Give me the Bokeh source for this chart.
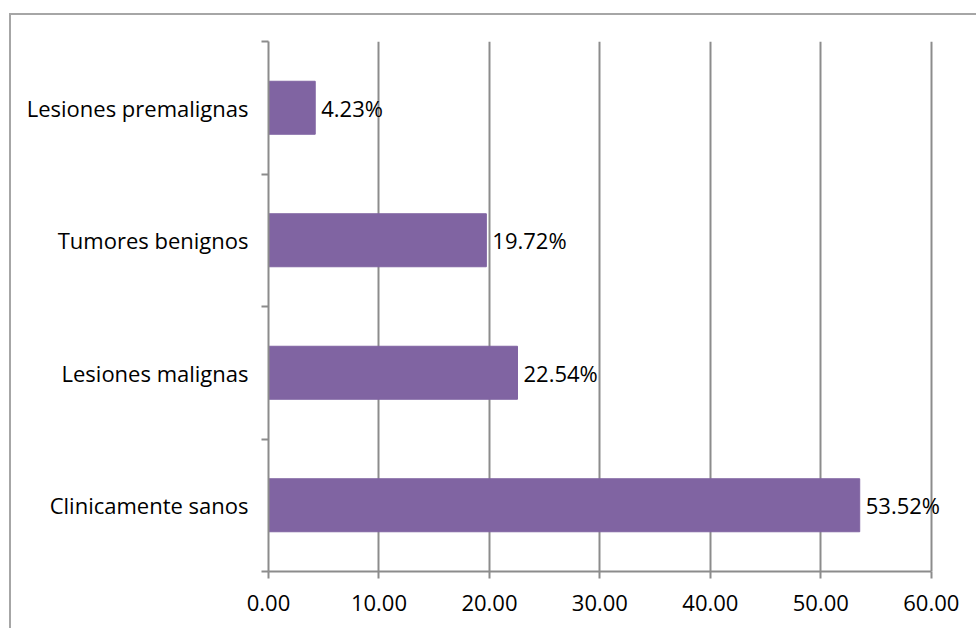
from bokeh.plotting import figure
from bokeh.models import (Range1d, FixedTicker, SingleIntervalTicker, NumeralTickFormatter,
                          Label)
from bokeh.embed import file_html
from bokeh.resources import INLINE

categories = ["Clinicamente sanos", "Lesiones malignas", "Tumores benignos", "Lesiones premalignas"]
values = [53.52, 22.54, 19.72, 4.23]
value_labels = ["53.52%", "22.54%", "19.72%", "4.23%"]
axis_max = 60

FONT = "Open Sans"
FS = "22px"
GRAY = "#8c8c8c"

ypos = [i + 0.5 for i in range(len(categories))]

# frame extended past the axis end so the last value label is not clipped
p = figure(width=967, height=615, output_backend="svg", toolbar_location=None,
           x_range=Range1d(0, 64), y_range=Range1d(0, len(categories)),
           min_border_left=257, min_border_right=3, min_border_top=26, min_border_bottom=59,
           margin=(13, 0, 0, 9))
p.styles = {"border-left": "2px solid #a6a6a6", "border-top": "2px solid #a6a6a6"}
p.outline_line_color = None
p.background_fill_color = "white"
p.border_fill_color = "white"

p.hbar(y=ypos, right=values, left=0, height=0.4, fill_color="#8064A2", line_color="#8064A2")

for yv, v, lab in zip(ypos, values, value_labels):
    p.add_layout(Label(x=v, y=yv, text=lab, x_offset=6, text_baseline="middle",
                       text_align="left", text_font=FONT, text_font_size=FS, text_color="black"))

# x axis
p.xaxis.bounds = (0, axis_max)
p.xaxis.ticker = SingleIntervalTicker(interval=10)
p.xaxis.formatter = NumeralTickFormatter(format="0.00")
p.xaxis.axis_line_color = GRAY
p.xaxis.axis_line_width = 2
p.xaxis.major_tick_line_color = GRAY
p.xaxis.major_tick_line_width = 2
p.xaxis.major_tick_in = 0
p.xaxis.major_tick_out = 7
p.xaxis.minor_tick_line_color = None
p.xaxis.major_label_text_font = FONT
p.xaxis.major_label_text_font_size = FS
p.xaxis.major_label_text_color = "black"
p.xaxis.major_label_standoff = 16

# y axis
p.yaxis.ticker = FixedTicker(ticks=ypos, minor_ticks=list(range(len(categories) + 1)))
p.yaxis.major_label_overrides = {y: c for y, c in zip(ypos, categories)}
p.yaxis.axis_line_color = GRAY
p.yaxis.axis_line_width = 2
p.yaxis.major_tick_line_color = None
p.yaxis.major_tick_in = 0
p.yaxis.major_tick_out = 0
p.yaxis.minor_tick_line_color = GRAY
p.yaxis.minor_tick_line_width = 2
p.yaxis.minor_tick_in = 0
p.yaxis.minor_tick_out = 7
p.yaxis.major_label_text_font = FONT
p.yaxis.major_label_text_font_size = FS
p.yaxis.major_label_text_color = "black"
p.yaxis.major_label_standoff = 13

p.xgrid.grid_line_color = GRAY
p.xgrid.grid_line_width = 2
p.xgrid.bounds = (0, axis_max)
p.ygrid.grid_line_color = None

open("out.html", "w").write(file_html(p, INLINE))
